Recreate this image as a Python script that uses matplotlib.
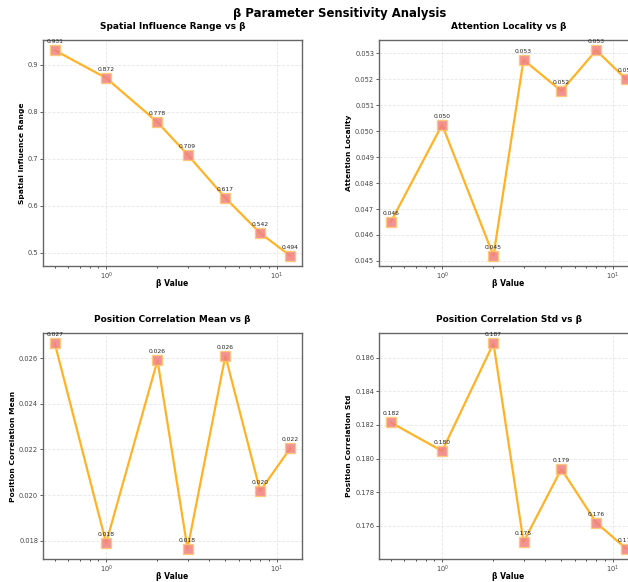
import matplotlib.pyplot as plt

# Data
beta = [0.5, 1, 2, 3, 5, 8, 12]
spatial_range = [0.931, 0.872, 0.778, 0.709, 0.617, 0.542, 0.494]
attention_locality = [0.04650, 0.05025, 0.04520, 0.05275, 0.05155, 0.05312, 0.05200]
pos_corr_mean = [0.02665, 0.01790, 0.02590, 0.01765, 0.02610, 0.02018, 0.02205]
pos_corr_std = [0.18215, 0.18045, 0.18685, 0.17505, 0.17938, 0.17620, 0.17465]

panels = [
    (spatial_range, 'Spatial Influence Range', 'Spatial Influence Range vs β'),
    (attention_locality, 'Attention Locality', 'Attention Locality vs β'),
    (pos_corr_mean, 'Position Correlation Mean', 'Position Correlation Mean vs β'),
    (pos_corr_std, 'Position Correlation Std', 'Position Correlation Std vs β'),
]

W, H = 628, 582
fig = plt.figure(figsize=(W / 100, H / 100), dpi=100)

# axes boxes in pixels: left, top, right, bottom (right column runs past the edge)
boxes = [(43, 40, 302, 266), (379, 40, 638, 266),
         (43, 333, 302, 559), (379, 333, 638, 559)]

for (vals, ylabel, title), (l, t, r, b) in zip(panels, boxes):
    ax = fig.add_axes([l / W, 1 - b / H, (r - l) / W, (b - t) / H])
    ax.plot(beta, vals, color='#FFA500', linewidth=1.6, alpha=0.85,
            marker='s', markersize=6.5, markerfacecolor='#F08080',
            markeredgecolor='#FFC870', markeredgewidth=1.0)
    ax.set_xscale('log')
    ax.grid(True, linestyle='--', alpha=0.3, linewidth=0.6)
    for xv, yv in zip(beta, vals):
        ax.annotate(f'{yv:.3f}', (xv, yv), textcoords='offset points',
                    xytext=(0, 5), ha='center', fontsize=4.3, color='#222222')
    ax.set_title(title, fontsize=6.5, fontweight='bold', pad=8)
    ax.set_xlabel('β Value', fontsize=5.5, fontweight='bold', labelpad=-2)
    ax.set_ylabel(ylabel, fontsize=5.4, fontweight='bold', labelpad=2)
    ax.tick_params(labelsize=4.8, length=2, width=0.6, pad=1.5,
                   colors='#444444')
    ax.tick_params(which='minor', length=1.2, width=0.5)
    for sp in ax.spines.values():
        sp.set_color('#666666')
        sp.set_linewidth(1.0)

fig.suptitle('β Parameter Sensitivity Analysis', x=340 / W, y=1 - 13 / H,
             va='center', fontsize=8.4, fontweight='bold')

fig.savefig('out.png', dpi=100)
